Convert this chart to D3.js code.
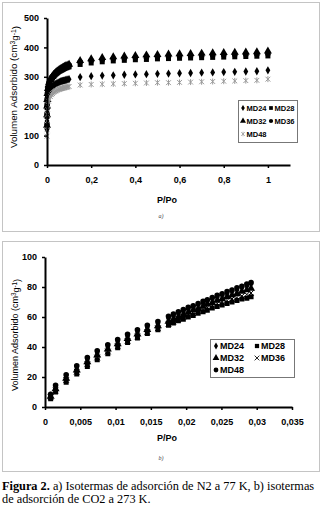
<!DOCTYPE html>
<html>
<head>
<meta charset="utf-8">
<script src="https://cdn.jsdelivr.net/npm/d3@7"></script>
<style>
  body { margin: 0; background: #fff; }
  svg { display: block; }
  .tick text { font-family: "Liberation Sans", Arial, sans-serif; font-weight: bold; font-size: 9px; fill: #000; }
  .axis .domain { stroke: #000; stroke-width: 2; }
  .axis .tick line { stroke: #000; stroke-width: 1.5; }
  .ttl { font-family: "Liberation Sans", Arial, sans-serif; fill: #000; }
  .leg { font-family: "Liberation Sans", Arial, sans-serif; font-weight: bold; fill: #000; }
</style>
</head>
<body>
<div id="chart"></div>
<script>
// ---- chart a) N2 at 77 K ----
var pA = [0.00005, 0.0002, 0.0005, 0.001, 0.002, 0.004, 0.007, 0.01, 0.015, 0.02, 0.025, 0.03, 0.035,
          0.04, 0.045, 0.05, 0.055, 0.06, 0.065, 0.07, 0.075, 0.08, 0.085, 0.09, 0.095, 0.1,
          0.15, 0.2, 0.25, 0.3, 0.35, 0.4, 0.45, 0.5, 0.55, 0.6, 0.65, 0.7, 0.75, 0.8, 0.85, 0.9, 0.95, 1.0];
var md24A = [120, 150, 178, 198, 215, 230, 242, 249, 257, 263, 267, 270, 273, 276, 278, 280, 282, 284, 285, 286, 287, 288, 289, 290, 291, 292,
             299, 302, 304, 305, 307, 308, 309, 310, 311, 312, 313, 314, 315, 316, 317, 318, 319, 322];
var md28A = [130, 165, 195, 218, 238, 255, 267, 275, 284, 291, 296, 301, 305, 309, 312, 315, 318, 320, 322, 324, 326, 328, 330, 331, 333, 334,
             342, 347, 351, 354, 356, 358, 359, 361, 362, 363, 364, 365, 366, 367, 368, 369, 370, 371];
var md32A = [135, 170, 200, 222, 243, 260, 272, 280, 289, 296, 302, 307, 311, 315, 318, 321, 324, 327, 329, 331, 333, 335, 337, 338, 340, 342,
             355, 361, 365, 368, 370, 372, 374, 375, 377, 378, 379, 380, 381, 382, 383, 384, 385, 387];
var md36A = [140, 175, 205, 225, 245, 262, 274, 281, 290, 297, 302, 307, 311, 315, 318, 321, 324, 326, 328, 330, 332, 334, 336, 337, 339, 340,
             350, 355, 358, 361, 363, 365, 366, 368, 369, 370, 371, 372, 373, 374, 375, 376, 377, 378];
var md48A = [98, 120, 150, 172, 190, 205, 217, 224, 233, 239, 243, 247, 250, 252, 254, 256, 258, 259, 260, 261, 262, 263, 264, 265, 266, 267,
             272, 274, 275, 276, 277, 278, 279, 280, 280, 281, 282, 283, 284, 285, 286, 287, 288, 292];
var xTicksA = [0, 0.2, 0.4, 0.6, 0.8, 1];
var yTicksA = [0, 100, 200, 300, 400, 500];

// ---- chart b) CO2 at 273 K ----
var pB = [0.0008, 0.0015, 0.003, 0.0045, 0.006, 0.0074, 0.0089, 0.0103, 0.0117, 0.0131, 0.0145, 0.016,
          0.0175, 0.0182, 0.0189, 0.0196, 0.0203, 0.021, 0.0217, 0.0224, 0.023, 0.0237, 0.0244, 0.0251,
          0.0258, 0.0265, 0.0272, 0.0279, 0.0286, 0.0292];
var md24B = [7.5, 13, 20, 26, 31.5, 36, 40, 43.5, 47, 50, 53, 55.5, 59, 60.5, 62, 63.5, 65, 66.5, 68, 69, 70.5, 72, 73, 74.5, 75.5, 77, 78, 79.5, 80.5, 82];
var md28B = [5.5, 10, 16.5, 22, 27, 31.5, 35.5, 39.5, 43, 46, 49, 51.5, 54.5, 56, 57.5, 58.5, 60, 61, 62.5, 63.5, 64.5, 66, 67, 68, 69, 70, 71, 72, 72.5, 73.5];
var md32B = [7, 12, 19, 24.5, 30, 34.5, 38.5, 42, 45.5, 48.5, 51.5, 54, 57, 58.5, 60, 61.5, 63, 64.5, 65.5, 67, 68.5, 69.5, 71, 72, 73.5, 74.5, 75.5, 77, 78, 79];
var md36B = [6.5, 11, 18, 23.5, 28.5, 33, 37, 40.5, 44, 47, 50, 52.5, 55.5, 57, 58.5, 60, 61.5, 62.5, 64, 65, 66.5, 67.5, 69, 70, 71, 72, 73, 74, 75, 76];
var md48B = [8.5, 14.5, 21.5, 27.5, 33, 37.5, 41.5, 45, 48.5, 51.5, 54.5, 57, 60.5, 62, 63.5, 65, 66.5, 67.5, 69, 70.5, 71.5, 73, 74.5, 75.5, 77, 78, 79.5, 80.5, 82, 83];
var xTicksB = [0, 0.005, 0.01, 0.015, 0.02, 0.025, 0.03, 0.035];
var yTicksB = [0, 20, 40, 60, 80, 100];

var fmtComma = function(d) { return String(d).replace(".", ","); };

// marker drawers
var sym = {
  diamond: { path: d3.symbol().type(d3.symbolDiamond).size(20)(), fill: "#000", stroke: "none" },
  square: { path: d3.symbol().type(d3.symbolSquare).size(25)(), fill: "#000", stroke: "none" },
  triangle: { path: d3.symbol().type(d3.symbolTriangle).size(28)(), fill: "#000", stroke: "none" },
  circle: { path: d3.symbol().type(d3.symbolCircle).size(25)(), fill: "#000", stroke: "none" },
  times: { path: d3.symbol().type(d3.symbolTimes).size(22)(), fill: "none", stroke: "#000" },
  star: { path: "M-2.4,-2.4L2.4,2.4M2.4,-2.4L-2.4,2.4M0,-3L0,3", fill: "none", stroke: "#999" }
};

var svg = d3.select("#chart").append("svg")
    .attr("width", 322)
    .attr("height", 505);

// panel frames
svg.append("rect").attr("x", 2.5).attr("y", 2.5).attr("width", 317).attr("height", 229)
    .attr("fill", "#fff").attr("stroke", "#c4c4c4");
svg.append("rect").attr("x", 2.5).attr("y", 241.5).attr("width", 317).attr("height", 230)
    .attr("fill", "#fff").attr("stroke", "#c4c4c4");

function drawChart(cfg) {
  var g = svg.append("g");

  var x = d3.scaleLinear().domain(cfg.xDomain).range(cfg.xRange);
  var y = d3.scaleLinear().domain(cfg.yDomain).range(cfg.yRange);

  var xAxis = d3.axisBottom(x).tickValues(cfg.xTicks).tickFormat(fmtComma)
      .tickSizeInner(3).tickSizeOuter(0).tickPadding(cfg.xPad);
  var yAxis = d3.axisLeft(y).tickValues(cfg.yTicks).tickFormat(fmtComma)
      .tickSizeInner(3).tickSizeOuter(0).tickPadding(cfg.yPad);

  // points
  cfg.series.forEach(function(s) {
    var m = sym[s.marker];
    g.append("g").selectAll("path")
        .data(cfg.p.map(function(v, i) { return { x: v, y: s.values[i] }; }))
      .enter().append("path")
        .attr("d", m.path)
        .attr("transform", function(d) { return "translate(" + x(d.x) + "," + y(d.y) + ")"; })
        .attr("fill", m.fill)
        .attr("stroke", m.stroke)
        .attr("stroke-width", 1);
  });

  g.append("g").attr("class", "axis")
      .attr("transform", "translate(0," + cfg.yRange[0] + ")")
      .call(xAxis);
  g.append("g").attr("class", "axis")
      .attr("transform", "translate(" + cfg.xRange[0] + ",0)")
      .call(yAxis);

  // y title
  var yt = g.append("text").attr("class", "ttl")
      .attr("transform", "translate(" + cfg.yTitleX + "," + cfg.yTitleY + ") rotate(-90)")
      .attr("text-anchor", "middle")
      .style("font-size", cfg.yTitleSize + "px");
  yt.append("tspan").text("Volumen Adsorbido (cm");
  yt.append("tspan").attr("dy", "-0.35em").style("font-size", "0.7em").text("3");
  yt.append("tspan").attr("dy", "0.35em").text("g");
  yt.append("tspan").attr("dy", "-0.35em").style("font-size", "0.7em").text("-1");
  yt.append("tspan").attr("dy", "0.35em").text(")");

  // x title
  g.append("text").attr("class", "ttl")
      .attr("x", cfg.xTitleX).attr("y", cfg.xTitleY)
      .attr("text-anchor", "middle")
      .style("font-size", "9px").style("font-weight", "bold")
      .text("P/Po");

  // panel label
  g.append("text")
      .attr("x", 161).attr("y", cfg.panelY)
      .attr("text-anchor", "middle")
      .style("font-family", "'Liberation Serif', serif")
      .style("font-style", "italic")
      .style("font-size", "6px")
      .attr("fill", "#444")
      .text(cfg.panel);

  // legend
  var L = cfg.legend;
  g.append("rect").attr("x", L.x + 0.5).attr("y", L.y + 0.5)
      .attr("width", L.w).attr("height", L.h)
      .attr("fill", "#fff").attr("stroke", "#777");
  cfg.series.forEach(function(s, i) {
    var col = i % 2, row = Math.floor(i / 2);
    var mx = L.x + L.padX + col * L.colW, my = L.y + L.padY + row * L.rowH;
    var m = sym[s.marker];
    g.append("path").attr("d", m.path)
        .attr("transform", "translate(" + mx + "," + my + ") scale(" + L.mScale + ")")
        .attr("fill", m.fill).attr("stroke", m.stroke);
    g.append("text").attr("class", "leg")
        .attr("x", mx + L.textDx).attr("y", my + L.size * 0.36)
        .style("font-size", L.size + "px")
        .text(s.name);
  });
}

drawChart({
  p: pA,
  series: [
    { name: "MD24", values: md24A, marker: "diamond" },
    { name: "MD28", values: md28A, marker: "square" },
    { name: "MD32", values: md32A, marker: "triangle" },
    { name: "MD36", values: md36A, marker: "circle" },
    { name: "MD48", values: md48A, marker: "star" }
  ],
  xDomain: [0, 1.1], xRange: [47, 290],
  yDomain: [0, 500], yRange: [165, 18],
  xTicks: xTicksA, yTicks: yTicksA,
  xPad: 9, yPad: 5,
  yTitleX: 17, yTitleY: 87, yTitleSize: 9.8,
  xTitleX: 167, xTitleY: 203,
  panel: "a)", panelY: 218,
  legend: { x: 238, y: 100, w: 59, h: 42, padX: 5, padY: 8, colW: 28, rowH: 13, textDx: 3.5, size: 7.5, mScale: 0.75 }
});

drawChart({
  p: pB,
  series: [
    { name: "MD24", values: md24B, marker: "diamond" },
    { name: "MD28", values: md28B, marker: "square" },
    { name: "MD32", values: md32B, marker: "triangle" },
    { name: "MD36", values: md36B, marker: "times" },
    { name: "MD48", values: md48B, marker: "circle" }
  ],
  xDomain: [0, 0.035], xRange: [45, 292],
  yDomain: [0, 100], yRange: [407, 257],
  xTicks: xTicksB, yTicks: yTicksB,
  xPad: 9, yPad: 5,
  yTitleX: 18, yTitleY: 335, yTitleSize: 9,
  xTitleX: 167, xTitleY: 441,
  panel: "b)", panelY: 460,
  legend: { x: 210, y: 339, w: 84, h: 38, padX: 6, padY: 7, colW: 41, rowH: 12, textDx: 4, size: 9, mScale: 0.85 }
});

// caption
var cap = svg.append("text")
    .attr("x", 2).attr("y", 490)
    .style("font-family", "'Liberation Serif', 'Times New Roman', serif")
    .style("font-size", "12.3px")
    .attr("fill", "#000");
cap.append("tspan").style("font-weight", "bold").text("Figura 2.");
cap.append("tspan").text(" a) Isotermas de adsorción de N2 a 77 K, b) isotermas");
svg.append("text")
    .attr("x", 2).attr("y", 503)
    .style("font-family", "'Liberation Serif', 'Times New Roman', serif")
    .style("font-size", "12.3px")
    .attr("fill", "#000")
    .text("de adsorción de CO2 a 273 K.");
</script>
</body>
</html>
